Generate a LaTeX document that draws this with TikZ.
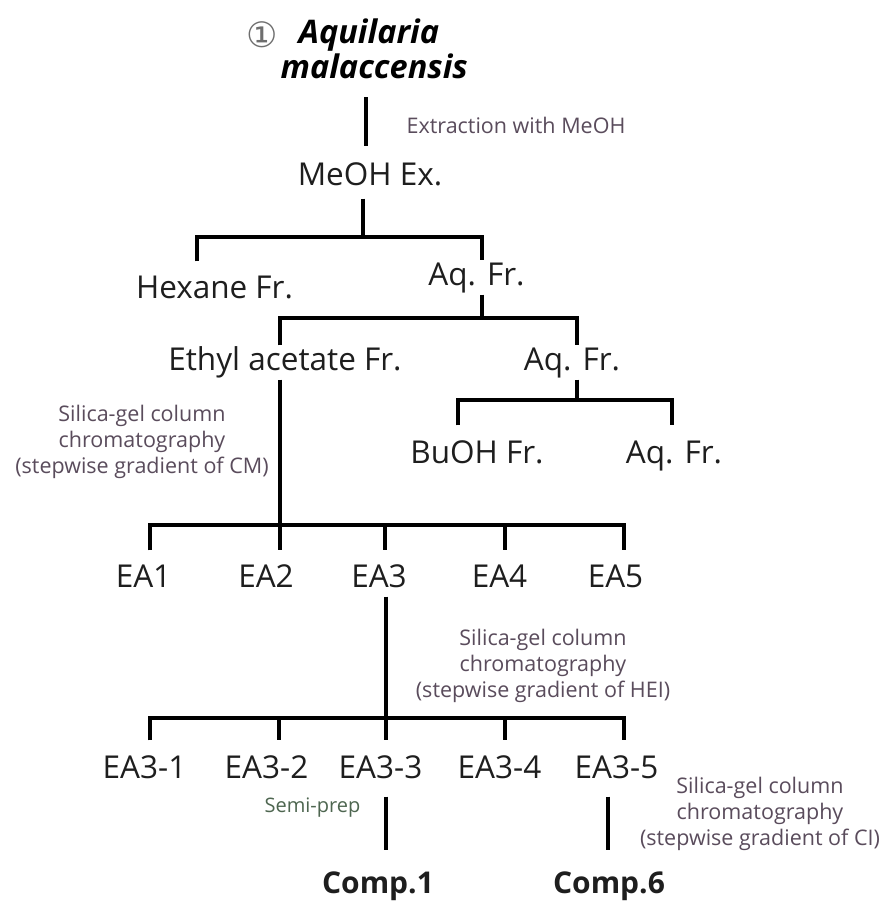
\documentclass[tikz,border=0pt]{standalone}
\usepackage{fontspec}
\setmainfont{Open Sans}
\newfontfamily\circfont{DejaVu Sans}
\definecolor{txt}{HTML}{1E1E1E}
\definecolor{lblc}{HTML}{5A4C5C}
\definecolor{semic}{HTML}{4E6650}
\definecolor{circc}{HTML}{6E6E6E}
\begin{document}
\begin{tikzpicture}[x=1pt,y=-1pt,line width=3.2pt,
  mainnode/.style={font=\fontsize{31.5}{36}\selectfont, text=txt, inner sep=0pt,
    text height=23pt, text depth=8pt, anchor=base},
  compnode/.style={mainnode, font=\fontsize{30}{36}\selectfont\bfseries},
  titlenode/.style={font=\fontsize{32.5}{36}\selectfont\bfseries\itshape, text=black,
    inner sep=0pt, anchor=base west},
  lblnode/.style={font=\fontsize{21.5}{26}\selectfont, text=lblc, inner sep=0pt, align=center},
  conn/.style={draw=black, line width=3.2pt}]
\useasboundingbox (0,0) rectangle (893,902);
\fill[white] (0,0) rectangle (893,902);

% title
\node[font=\circfont\fontsize{35}{36}\selectfont, text=circc, inner sep=0pt] (num) at (262,35) {①};
\node[titlenode] (ttl1) at (297,43) {Aquilaria};
\node[titlenode] (ttl2) at (279,78) {malaccensis};
\node[lblnode, anchor=base west] (ext) at (405,133) {Extraction with MeOH};

% main nodes
\node[mainnode] (meoh) at (370,185) {MeOH Ex.};
\node[mainnode] (hex) at (214.5,298) {Hexane Fr.};
\node[mainnode] (aq1) at (476.5,285) {Aq. Fr.};
\node[mainnode] (eth) at (285,370) {Ethyl acetate Fr.};
\node[mainnode] (aq2) at (572,370) {Aq. Fr.};
\node[mainnode] (buoh) at (477,463) {BuOH Fr.};
\node[mainnode] (aq3) at (674,463) {Aq. Fr.};

\node[mainnode] (ea1) at (143.5,587) {EA1};
\node[mainnode] (ea2) at (266,587) {EA2};
\node[mainnode] (ea3) at (379,587) {EA3};
\node[mainnode] (ea4) at (499.5,587) {EA4};
\node[mainnode] (ea5) at (615.5,587) {EA5};

\node[mainnode] (ea31) at (144.5,778) {EA3-1};
\node[mainnode] (ea32) at (266.5,778) {EA3-2};
\node[mainnode] (ea33) at (380.5,778) {EA3-3};
\node[mainnode] (ea34) at (499.5,778) {EA3-4};
\node[mainnode] (ea35) at (616.5,778) {EA3-5};

\node[compnode] (comp1) at (378,893) {Comp.1};
\node[compnode] (comp6) at (609,893) {Comp.6};

% labels
\node[lblnode] (cm) at (142,442) {Silica-gel column\\chromatography\\(stepwise gradient of CM)};
\node[lblnode] (hei) at (543,666) {Silica-gel column\\chromatography\\(stepwise gradient of HEI)};
\node[lblnode] (ci) at (760,814) {Silica-gel column\\chromatography\\(stepwise gradient of CI)};
\node[lblnode, text=semic, anchor=east, font=\fontsize{20}{26}\selectfont] (semi) at (362,808) {Semi-prep};

% junction coordinates
\coordinate (x0) at (366,0);
\coordinate (j1L) at (197,237); \coordinate (j1M) at (363,237); \coordinate (j1R) at (482,237);
\coordinate (j2L) at (280,318); \coordinate (j2M) at (482,318); \coordinate (j2R) at (577,318);
\coordinate (j3L) at (458,400); \coordinate (j3M) at (577,400); \coordinate (j3R) at (672,400);
\coordinate (j4a) at (150,525); \coordinate (j4b) at (280,525); \coordinate (j4c) at (385,525);
\coordinate (j4d) at (505,525); \coordinate (j4e) at (624,525);
\coordinate (j5a) at (150,718); \coordinate (j5b) at (279,718); \coordinate (j5c) at (386,718);
\coordinate (j5d) at (505,718); \coordinate (j5e) at (624,718);
\coordinate (x6a) at (386,0); \coordinate (x6b) at (608,0);

% connectors
\draw[conn, shorten <=19pt, shorten >=14pt] (ttl2.base -| x0) -- (meoh.north -| x0);
\draw[conn, shorten <=4pt] (meoh.south -| j1M) -- (j1M);
\draw[conn, shorten <=12pt] (hex.north -| j1L) -- (j1L) -- (j1R) -- (aq1.north -| j1R);
\draw[conn] (aq1.south -| j2M) -- (j2M);
\draw[conn] (eth.north -| j2L) -- (j2L) -- (j2R) -- (aq2.north -| j2R);
\draw[conn] (aq2.south -| j3M) -- (j3M);
\draw[conn, shorten <=13pt, shorten >=13pt] (buoh.north -| j3L) -- (j3L) -- (j3R) -- (aq3.north -| j3R);

\draw[conn, shorten >=12pt] (eth.south -| j4b) -- (ea2.north -| j4b);
\draw[conn, shorten <=12pt, shorten >=12pt] (ea1.north -| j4a) -- (j4a) -- (j4e) -- (ea5.north -| j4e);
\draw[conn, shorten >=12pt] (j4c) -- (ea3.north -| j4c);
\draw[conn, shorten >=12pt] (j4d) -- (ea4.north -| j4d);

\draw[conn, shorten >=13pt] (ea3.south -| j5c) -- (ea33.north -| j5c);
\draw[conn, shorten <=13pt, shorten >=13pt] (ea31.north -| j5a) -- (j5a) -- (j5e) -- (ea35.north -| j5e);
\draw[conn, shorten >=13pt] (j5b) -- (ea32.north -| j5b);
\draw[conn, shorten >=13pt] (j5d) -- (ea34.north -| j5d);

\draw[conn, shorten <=9pt, shorten >=18pt] (ea33.south -| x6a) -- (comp1.north -| x6a);
\draw[conn, shorten <=9pt, shorten >=18pt] (ea35.south -| x6b) -- (comp6.north -| x6b);
\end{tikzpicture}
\end{document}
